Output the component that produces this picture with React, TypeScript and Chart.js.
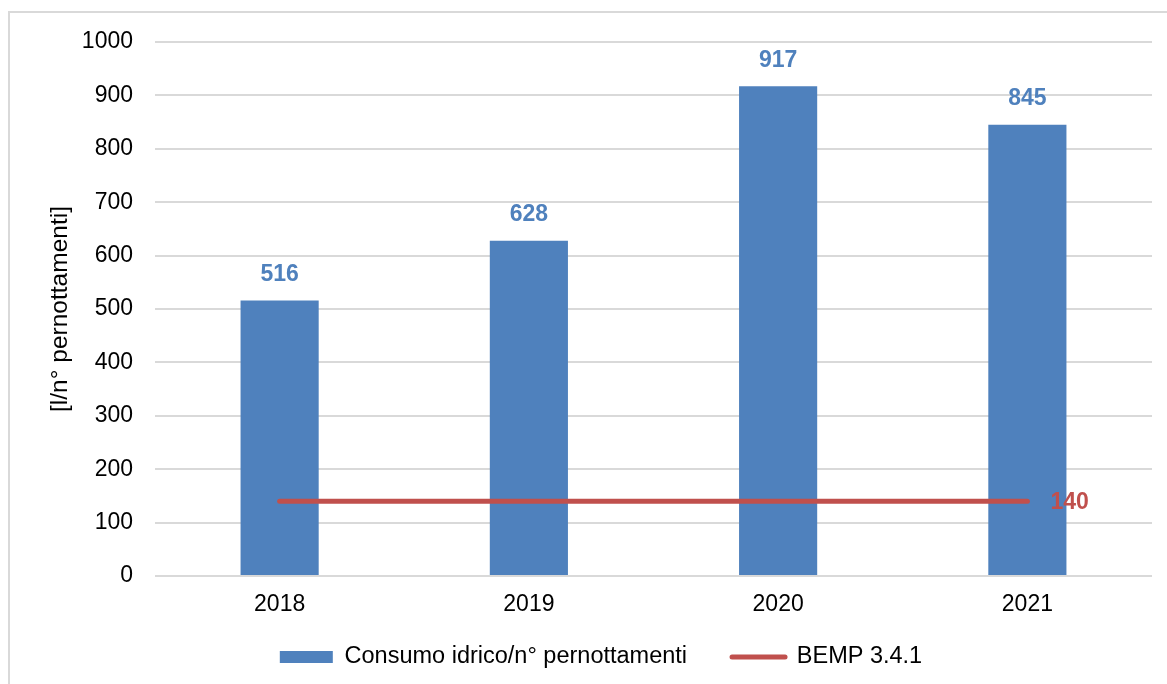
import React, { useEffect, useRef } from "react";
import { Chart, registerables } from "chart.js";

Chart.register(...registerables);

const categories = ["2018", "2019", "2020", "2021"];
const consumo = [516, 628, 917, 845];
const bemp = [140, 140, 140, 140];
const yTicks = [0, 100, 200, 300, 400, 500, 600, 700, 800, 900, 1000];
const seriesNames = ["Consumo idrico/n° pernottamenti", "BEMP 3.4.1"];
const yTitle = "[l/n° pernottamenti]";

const FONT = "'Liberation Sans', Arial, sans-serif";
const BLUE = "#4F81BD";
const RED = "#C0504D";
const GRID = "#D9D9D9";

const borderPlugin = {
  id: "outerBorder",
  beforeDraw(chart: any) {
    const ctx = chart.ctx;
    ctx.save();
    ctx.fillStyle = "#ffffff";
    ctx.fillRect(0, 0, chart.width, chart.height);
    ctx.strokeStyle = GRID;
    ctx.lineWidth = 2;
    ctx.strokeRect(9, 12, chart.width + 20, chart.height + 20);
    ctx.restore();
  },
};

const labelPlugin = {
  id: "valueLabels",
  afterDatasetsDraw(chart: any) {
    const ctx = chart.ctx;
    ctx.save();
    ctx.font = `bold 23px ${FONT}`;
    ctx.textBaseline = "middle";
    const barMeta = chart.getDatasetMeta(0);
    ctx.fillStyle = BLUE;
    ctx.textAlign = "center";
    barMeta.data.forEach((el: any, i: number) => {
      ctx.fillText(String(consumo[i]), el.x, el.y - 26);
    });
    const lineMeta = chart.getDatasetMeta(1);
    const last = lineMeta.data[lineMeta.data.length - 1];
    ctx.fillStyle = RED;
    ctx.textAlign = "left";
    ctx.fillText(String(bemp[bemp.length - 1]), last.x + 23, last.y + 1);
    ctx.restore();
  },
};

export default function App() {
  const ref = useRef<HTMLCanvasElement | null>(null);

  useEffect(() => {
    if (!ref.current) return;
    const chart = new Chart(ref.current, {
      type: "bar",
      data: {
        labels: categories,
        datasets: [
          {
            type: "bar",
            label: seriesNames[0],
            data: consumo,
            backgroundColor: BLUE,
            borderWidth: 0,
            barPercentage: 0.3135,
            categoryPercentage: 1,
            order: 2,
          },
          {
            type: "line",
            label: seriesNames[1],
            data: bemp,
            borderColor: RED,
            backgroundColor: RED,
            borderWidth: 5,
            borderCapStyle: "round",
            pointRadius: 0,
            pointHoverRadius: 0,
            fill: false,
            order: 1,
          },
        ],
      },
      options: {
        responsive: false,
        animation: false,
        layout: { padding: { top: 42, right: 15, left: 50, bottom: 5.25 } },
        plugins: {
          tooltip: { enabled: false },
          legend: {
            display: true,
            position: "bottom",
            labels: {
              usePointStyle: true,
              pointStyleWidth: 53,
              boxHeight: 12,
              padding: 45,
              color: "#000",
              font: { family: FONT, size: 23.5 },
              generateLabels: (c: any) =>
                c.data.datasets.map((ds: any, i: number) => ({
                  text: ds.label,
                  fillStyle: i === 0 ? BLUE : RED,
                  strokeStyle: i === 0 ? BLUE : RED,
                  lineWidth: i === 0 ? 0 : 5,
                  lineCap: "round",
                  pointStyle: i === 0 ? "rect" : "line",
                  hidden: false,
                  datasetIndex: i,
                  fontColor: "#000",
                })),
            },
          },
        },
        scales: {
          x: {
            grid: { display: false, drawTicks: false },
            border: { display: false },
            ticks: {
              color: "#000",
              mirror: true,
              padding: -42.8,
              font: { family: FONT, size: 23 },
            },
            afterFit: (s: any) => {
              s.height = 24.25;
            },
          },
          y: {
            min: 0,
            max: 1000,
            afterBuildTicks: (s: any) => {
              s.ticks = yTicks.map((v) => ({ value: v }));
            },
            grid: { color: GRID, lineWidth: 2, drawTicks: false },
            border: { display: false },
            ticks: {
              color: "#000",
              padding: 22,
              font: { family: FONT, size: 23 },
              callback: (v: any) => String(v),
            },
            title: {
              display: true,
              text: yTitle,
              color: "#000",
              font: { family: FONT, size: 24.5 },
              padding: { top: -4.7, bottom: 0 },
            },
            afterFit: (s: any) => {
              s.width = 105;
            },
          },
        },
      },
      plugins: [borderPlugin, labelPlugin],
    } as any);
    return () => chart.destroy();
  }, []);

  return (
    <div style={{ position: "fixed", left: 0, top: 0, width: 1167, height: 684, background: "#fff" }}>
      <canvas ref={ref} width={1167} height={684} style={{ display: "block" }} />
    </div>
  );
}
